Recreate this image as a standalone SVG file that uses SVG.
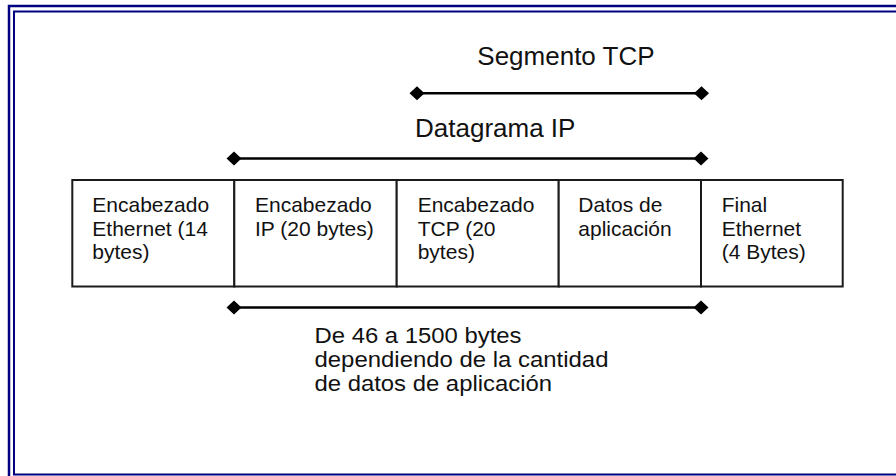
<svg xmlns="http://www.w3.org/2000/svg" width="896" height="476" viewBox="0 0 896 476">
<style>
.frame{fill:none;stroke:#000080}
.cell{fill:#fff;stroke:#1a1a1a;stroke-width:2}
.t{font-family:"Liberation Sans",Arial,sans-serif;font-size:21px;fill:#111}
.big{font-family:"Liberation Sans",Arial,sans-serif;font-size:26px;fill:#111}
.note{font-family:"Liberation Sans",Arial,sans-serif;font-size:21.5px;fill:#111}
.span{stroke:#000;stroke-width:2.5;fill:none;marker-start:url(#dia);marker-end:url(#dia)}
</style>
<defs>
<marker id="dia" markerUnits="userSpaceOnUse" markerWidth="16" markerHeight="16" refX="8" refY="8" orient="auto">
<path d="M0.5,8 L8,1 L15.5,8 L8,15 Z" fill="#000"/>
</marker>
</defs>
<rect width="896" height="476" fill="#fff"/>
<rect class="frame" x="9" y="6" width="900" height="480" stroke-width="2.5"/>
<rect class="frame" x="14" y="11.5" width="900" height="463" stroke-width="2"/>

<g id="connectors">
<path class="span" d="M417,93.3 H701.5"/>
<path class="span" d="M234,158.5 H701"/>
<path class="span" d="M234,307.5 H701"/>
</g>

<g id="label-segmento"><text class="big" x="477.3" y="65">Segmento TCP</text></g>
<g id="label-datagrama"><text class="big" x="415" y="136.7">Datagrama IP</text></g>
<g id="label-rango">
<text class="note" x="314.5" y="342.5" textLength="207" lengthAdjust="spacingAndGlyphs">De 46 a 1500 bytes</text>
<text class="note" x="314.5" y="366.5" textLength="294" lengthAdjust="spacingAndGlyphs">dependiendo de la cantidad</text>
<text class="note" x="314.5" y="390.5" textLength="237.5" lengthAdjust="spacingAndGlyphs">de datos de aplicación</text>
</g>

<g id="eth-header">
<rect class="cell" x="72.3" y="180" width="162" height="106.5"/>
<text class="t" x="92.3" y="212.3">Encabezado</text>
<text class="t" x="92.3" y="235.7">Ethernet (14</text>
<text class="t" x="92.3" y="259.3">bytes)</text>
</g>
<g id="ip-header">
<rect class="cell" x="234.3" y="180" width="162.4" height="106.5"/>
<text class="t" x="255" y="212.3">Encabezado</text>
<text class="t" x="255" y="235.7">IP (20 bytes)</text>
</g>
<g id="tcp-header">
<rect class="cell" x="396.7" y="180" width="162" height="106.5"/>
<text class="t" x="417.7" y="212.3">Encabezado</text>
<text class="t" x="417.7" y="235.7">TCP (20</text>
<text class="t" x="417.7" y="259.3">bytes)</text>
</g>
<g id="app-data">
<rect class="cell" x="558.7" y="180" width="142.3" height="106.5"/>
<text class="t" x="578.3" y="212.3">Datos de</text>
<text class="t" x="578.3" y="235.7">aplicación</text>
</g>
<g id="eth-trailer">
<rect class="cell" x="701" y="180" width="141.7" height="106.5"/>
<text class="t" x="721.7" y="212.3">Final</text>
<text class="t" x="721.7" y="235.7">Ethernet</text>
<text class="t" x="721.7" y="259.3">(4 Bytes)</text>
</g>
</svg>
